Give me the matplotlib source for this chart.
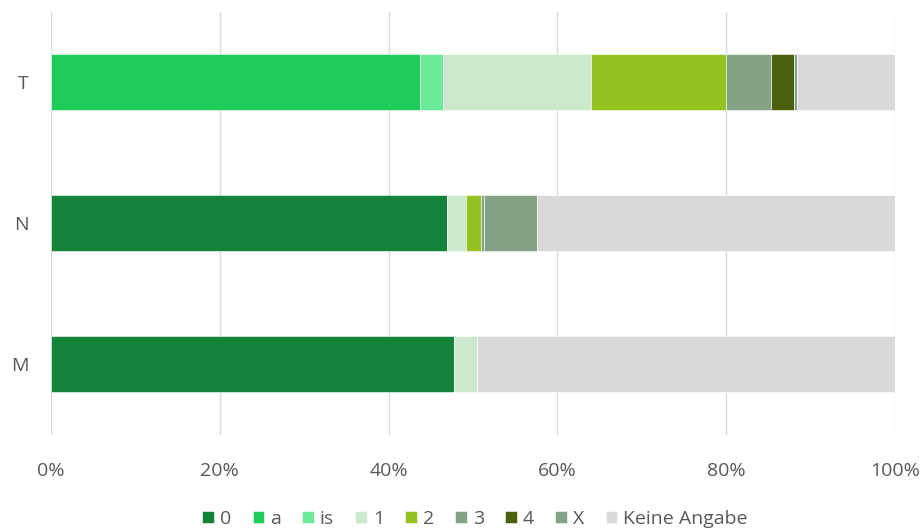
import matplotlib
matplotlib.use("Agg")
import matplotlib.pyplot as plt
import numpy as np

categories = ["T", "N", "M"]
series_names = ["0", "a", "is", "1", "2", "3", "4", "X", "Keine Angabe"]
colors = ["#138339", "#1ECC5A", "#6BEB98", "#CCE9CD", "#95C121", "#84A286", "#4C6110", "#84A286", "#D9D9D9"]

# values in percent, per series for [T, N, M]
s0 = [0.0, 46.95, 47.75]
sa = [43.7, 0.0, 0.0]
sis = [2.8, 0.0, 0.0]
s1 = [17.45, 2.25, 2.7]
s2 = [16.0, 1.8, 0.0]
s3 = [5.4, 0.3, 0.0]
s4 = [2.7, 0.0, 0.0]
sX = [0.3, 6.3, 0.0]
sk = [11.65, 42.4, 49.55]
series = [s0, sa, sis, s1, s2, s3, s4, sX, sk]

plt.rcParams['font.family'] = ['Open Sans', 'DejaVu Sans']

fig = plt.figure(figsize=(9.23, 5.31), dpi=100)
ax = fig.add_axes([51/923, 1-434.5/531, 844/923, 423/531])

y = np.arange(len(categories))
left = np.zeros(len(categories))
handles = []
for name, vals, c in zip(series_names, series, colors):
    vals = np.array(vals)
    b = ax.barh(y, vals, left=left, height=0.4, color=c, edgecolor='white', linewidth=0.4, label=name, zorder=3)
    handles.append(b)
    left += vals

ax.set_ylim(len(categories) - 0.5, -0.5)
ax.set_yticks(y)
ax.set_yticklabels(categories)
ax.set_xlim(0, 100)
ax.set_xticks(np.arange(0, 101, 20))
ax.set_xticklabels([f"{v}%" for v in range(0, 101, 20)])
ax.xaxis.grid(True, color='#D9D9D9', linewidth=1, zorder=0)
ax.set_axisbelow(True)
for s in ax.spines.values():
    s.set_visible(False)
ax.tick_params(axis='both', length=0, labelsize=14, colors='#595959')
ax.tick_params(axis='x', pad=20)
ax.tick_params(axis='y', pad=16)

leg = fig.legend(handles=handles, labels=series_names, loc='center', bbox_to_anchor=(475/923, 1-519/531),
                 ncol=9, frameon=False, fontsize=14, handlelength=0.6, handleheight=0.6,
                 handletextpad=0.3, columnspacing=1.1, labelcolor='#595959')

fig.savefig("out.png", dpi=100)
